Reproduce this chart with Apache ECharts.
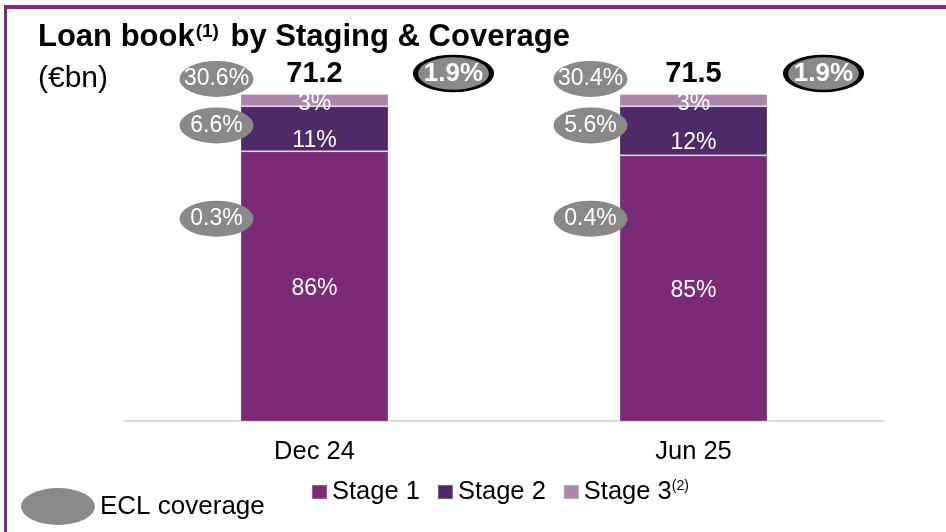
<!DOCTYPE html>
<html>
<head>
<meta charset="utf-8">
<script src="https://cdn.jsdelivr.net/npm/echarts@6/dist/echarts.min.js"></script>
<style>
  html, body { margin: 0; padding: 0; background: #fff; }
  #chart { width: 946px; height: 532px; }
</style>
</head>
<body>
<div id="chart"></div>
<script>
// ---- Data ----
const categories = ['Dec 24', 'Jun 25'];
const stage1 = [86, 85];          // % of loan book
const stage2 = [11, 12];
const stage3 = [3, 3];
const totals = [71.2, 71.5];      // €bn
const coverStage3 = [30.6, 30.4]; // ECL coverage %
const coverStage2 = [6.6, 5.6];
const coverStage1 = [0.3, 0.4];
const coverTotal = [1.9, 1.9];

// ---- Layout constants (positions only) ----
const FONT = 'Liberation Sans, Arial, sans-serif';
const C1 = '#7b2a78', C2 = '#4f2a69', C3 = '#ab86ab', GREY = '#898989', FRAME = '#7d2d7d';
const ELL_Y = { s3: 103.7, s2: 92.3, s1: 69.5, total: 105.0 }; // vertical placement in axis units
const LEFT_DX = [-98, -103];
const RIGHT_DX = [139, 130];
const ELLIPSE = 'path://M0,18.5 A37,18.5 0 1,1 74,18.5 A37,18.5 0 1,1 0,18.5 Z';

const eclData = [], eclLabels = [];
categories.forEach((c, i) => {
  [[coverStage3, ELL_Y.s3], [coverStage2, ELL_Y.s2], [coverStage1, ELL_Y.s1]].forEach(([arr, y]) => {
    eclData.push({ value: [i, y], symbolOffset: [LEFT_DX[i], 0] });
    eclLabels.push(arr[i].toFixed(1) + '%');
  });
});
const totalCovData = categories.map((c, i) => ({ value: [i, ELL_Y.total], symbolOffset: [RIGHT_DX[i], 0] }));

const barLabel = (offsetY) => ({
  show: true, position: 'inside', offset: [0, offsetY],
  color: '#fff', fontSize: 23, fontFamily: FONT,
  formatter: p => p.value + '%'
});

const chart = echarts.init(document.getElementById('chart'), null, { renderer: 'canvas' });
chart.setOption({
  animation: false,
  backgroundColor: '#fff',
  textStyle: { fontFamily: FONT },
  title: [
    {
      left: 38, top: 22, padding: 0,
      text: '{a|Loan book}{s|(1)}{a| by Staging & Coverage}',
      textStyle: {
        rich: {
          a: { fontSize: 31, fontWeight: 'bold', color: '#000', fontFamily: FONT },
          s: { fontSize: 19, fontWeight: 'bold', color: '#000', fontFamily: FONT, verticalAlign: 'top', padding: [0, 3, 0, 1] }
        }
      }
    },
    {
      left: 38, top: 64, padding: 0,
      text: '(€bn)',
      textStyle: { fontSize: 30, fontWeight: 'normal', color: '#000', fontFamily: FONT }
    }
  ],
  legend: [
    {
      data: ['Stage 1', 'Stage 2', 'Stage 3'],
      left: 311, top: 479, padding: 0,
      icon: 'rect', itemWidth: 15, itemHeight: 14, itemGap: 17,
      textStyle: {
        fontSize: 25.5, color: '#000', fontFamily: FONT,
        rich: {
          a: { fontSize: 25.5, color: '#000', fontFamily: FONT },
          s: { fontSize: 14, color: '#000', fontFamily: FONT, verticalAlign: 'top' }
        }
      },
      formatter: n => n === 'Stage 3' ? '{a|Stage 3}{s|(2)}' : n
    },
    {
      data: ['ECL coverage'],
      left: 21, top: 488, padding: 0,
      icon: ELLIPSE, itemWidth: 74, itemHeight: 37,
      textStyle: { fontSize: 26, color: '#000', fontFamily: FONT }
    }
  ],
  grid: { left: 125, right: 63, top: 94, bottom: 111 },
  xAxis: {
    type: 'category',
    data: categories,
    axisTick: { show: false },
    axisLine: { lineStyle: { color: '#d9d9d9', width: 2 } },
    axisLabel: { color: '#000', fontSize: 25.5, margin: 18, fontFamily: FONT }
  },
  yAxis: { type: 'value', min: 20, max: 100, show: false },
  graphic: [
    { type: 'rect', shape: { x: 4, y: 5, width: 942, height: 4 }, style: { fill: FRAME }, z: 100 },
    { type: 'rect', shape: { x: 4, y: 5, width: 3, height: 527 }, style: { fill: FRAME }, z: 100 }
  ],
  series: [
    {
      name: 'Stage 1', type: 'bar', stack: 'loan', barWidth: 148, clip: true,
      data: stage1,
      itemStyle: { color: C1, borderColor: 'rgba(255,255,255,0.25)', borderWidth: 1 },
      label: barLabel(2)
    },
    {
      name: 'Stage 2', type: 'bar', stack: 'loan', barWidth: 148, clip: true,
      data: stage2,
      itemStyle: { color: C2, borderColor: 'rgba(255,255,255,0.25)', borderWidth: 1 },
      label: barLabel(12)
    },
    {
      name: 'Stage 3', type: 'bar', stack: 'loan', barWidth: 148, clip: true,
      data: stage3,
      itemStyle: { color: C3, borderColor: 'rgba(255,255,255,0.25)', borderWidth: 1 },
      label: barLabel(4)
    },
    {
      name: 'Total', type: 'bar', stack: 'loan', barWidth: 148, clip: true,
      data: totals.map(() => 0),
      itemStyle: { color: 'transparent' },
      label: {
        show: true, position: 'top', distance: 6,
        color: '#000', fontSize: 29, fontWeight: 'bold', fontFamily: FONT,
        formatter: p => totals[p.dataIndex].toFixed(1)
      }
    },
    {
      name: 'ECL coverage', type: 'scatter', clip: false, z: 5,
      symbol: ELLIPSE, symbolSize: [74, 36], symbolKeepAspect: false,
      data: eclData,
      itemStyle: { color: GREY, opacity: 1 },
      label: {
        show: true, position: 'inside', color: '#fff', fontSize: 23, fontFamily: FONT,
        formatter: p => eclLabels[p.dataIndex]
      }
    },
    {
      name: 'Total coverage', type: 'scatter', clip: false, z: 5,
      symbol: ELLIPSE, symbolSize: [76, 35], symbolKeepAspect: false,
      data: totalCovData,
      itemStyle: { color: GREY, borderColor: '#000', borderWidth: 3.5, opacity: 1 },
      label: {
        show: true, position: 'inside', color: '#fff', fontSize: 26, fontWeight: 'bold', fontFamily: FONT,
        formatter: p => coverTotal[p.dataIndex].toFixed(1) + '%'
      }
    }
  ]
});
</script>
</body>
</html>
